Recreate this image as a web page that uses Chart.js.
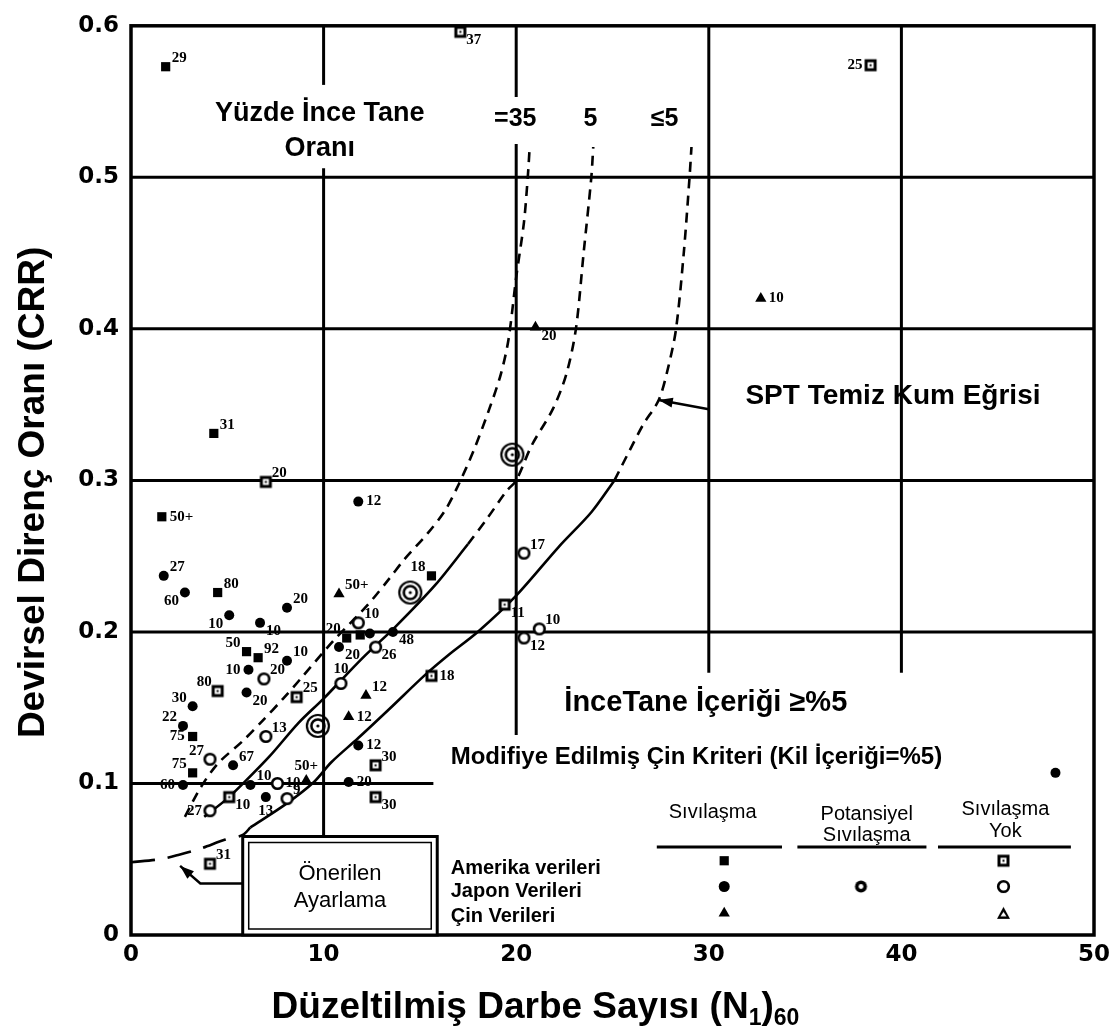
<!DOCTYPE html>
<html lang="tr">
<head>
<meta charset="UTF-8" />
<title>SPT Sıvılaşma Grafiği</title>
<script src="https://cdn.jsdelivr.net/npm/chart.js"></script>
<style>
  html, body { margin: 0; padding: 0; background: #fff; }
  #kutu { width: 1117px; height: 1033px; }
</style>
</head>
<body>
<div id="kutu"><canvas id="grafik" width="1117" height="1033"></canvas></div>
<script>
// ---- Veriler ----

// Amerika verileri - sıvılaşma (dolu kare)
var amerikaSivX = [1.8, 4.3, 1.6, 4.5, 6.0, 6.6, 3.2, 3.2, 15.6, 11.2, 11.9];
var amerikaSivY = [0.573, 0.331, 0.276, 0.226, 0.187, 0.183, 0.131, 0.107, 0.237, 0.196, 0.198];
var amerikaSivEtiket = ["29", "31", "50+", "80", "50", "92", "75", "75", "18", "20", ""];
var amerikaSivYer = ["ne", "ne", "e", "ne", "nw", "ne", "w", "nw", "nw", "nw", ""];

// Amerika verileri - sıvılaşma yok (açık kare)
var amerikaYokX = [17.1, 38.4, 7.0, 4.5, 8.6, 15.6, 19.4, 12.7, 12.7, 4.1, 5.1];
var amerikaYokY = [0.596, 0.574, 0.299, 0.161, 0.157, 0.171, 0.218, 0.112, 0.091, 0.047, 0.091];
var amerikaYokEtiket = ["37", "25", "20", "80", "25", "18", "11", "30", "30", "31", "10"];
var amerikaYokYer = ["se", "w", "ne", "nw", "ne", "e", "se", "ne", "se", "ne", "se"];

// Japon verileri - sıvılaşma (dolu daire)
var japonSivX = [11.8, 1.7, 2.8, 5.1, 6.7, 8.1, 8.1, 6.1, 6.0, 3.2, 2.7, 2.7, 6.2, 7.0, 11.8, 11.3, 10.8, 12.4, 13.6, 5.3, 48.0];
var japonSivY = [0.286, 0.237, 0.226, 0.211, 0.206, 0.216, 0.181, 0.175, 0.160, 0.151, 0.138, 0.099, 0.099, 0.091, 0.125, 0.101, 0.190, 0.199, 0.200, 0.112, 0.107];
var japonSivEtiket = ["12", "27", "60", "10", "10", "20", "10", "10", "20", "30", "22", "60", "10", "13", "12", "20", "20", "", "48", "67", ""];
var japonSivYer = ["e", "ne", "sw", "sw", "se", "ne", "ne", "w", "se", "nw", "nw", "w", "ne", "s", "e", "e", "se", "", "se", "ne", ""];

// Japon verileri - sıvılaşma yok (açık daire)
var japonYokX = [20.4, 21.2, 20.4, 6.9, 4.1, 7.0, 11.8, 10.9, 12.7, 7.6, 8.1, 4.1];
var japonYokY = [0.252, 0.202, 0.196, 0.169, 0.116, 0.131, 0.206, 0.166, 0.190, 0.100, 0.090, 0.082];
var japonYokEtiket = ["17", "10", "12", "20", "27", "13", "10", "10", "26", "10", "9", "27"];
var japonYokYer = ["ne", "ne", "se", "ne", "nw", "ne", "ne", "n", "se", "e", "ne", "w"];

// Japon verileri - potansiyel sıvılaşma (çift daire)
var japonPotX = [19.8, 14.5, 9.7];
var japonPotY = [0.317, 0.226, 0.138];

// Çin verileri - sıvılaşma (üçgen)
var cinSivX = [10.8, 12.2, 11.3, 9.1, 32.7, 21.0];
var cinSivY = [0.225, 0.158, 0.144, 0.102, 0.420, 0.401];
var cinSivEtiket = ["50+", "12", "12", "50+", "10", "20"];
var cinSivYer = ["ne", "ne", "e", "n", "e", "se"];

// Eğriler: ince tane oranı 35 (kesikli)
var egri35X = [2.8, 3.6, 4.5, 5.8, 6.8, 7.9, 8.8, 10.5, 12.3, 13.4, 14.2, 15.4, 16.3, 17.0, 17.8, 18.6, 19.2, 19.6, 20.0, 20.4, 20.6, 20.7];
var egri35Y = [0.078, 0.097, 0.113, 0.128, 0.141, 0.156, 0.169, 0.194, 0.218, 0.235, 0.248, 0.265, 0.280, 0.297, 0.320, 0.347, 0.370, 0.393, 0.434, 0.470, 0.500, 0.520];

// ince tane oranı 5 (düz + kesikli uzantı)
var egri5DuzX = [3.8, 5.0, 5.9, 7.2, 8.7, 10.0, 11.2, 12.2, 13.7, 15.8, 17.5];
var egri5DuzY = [0.078, 0.090, 0.101, 0.118, 0.140, 0.156, 0.172, 0.185, 0.203, 0.231, 0.258];
var egri5KesX = [17.5, 18.5, 19.5, 20.0, 20.8, 21.9, 22.6, 23.1, 23.5, 23.9, 24.0];
var egri5KesY = [0.258, 0.275, 0.293, 0.300, 0.323, 0.347, 0.370, 0.400, 0.450, 0.500, 0.520];

// ≤5 - SPT temiz kum eğrisi
var temizDuzX = [6.2, 8.0, 9.5, 10.4, 11.8, 13.4, 15.3, 16.5, 18.0, 20.0, 22.2, 23.9, 25.1];
var temizDuzY = [0.071, 0.086, 0.101, 0.114, 0.130, 0.149, 0.172, 0.185, 0.200, 0.224, 0.256, 0.279, 0.300];
var temizKesX = [25.1, 25.9, 26.6, 27.4, 27.9, 28.3, 28.7, 29.0, 29.1];
var temizKesY = [0.300, 0.320, 0.337, 0.353, 0.375, 0.400, 0.450, 0.500, 0.520];

// Önerilen ayarlama (kesikli)
var ayarX = [0, 1.5, 2.5, 3.6, 4.9, 5.8, 6.2];
var ayarY = [0.048, 0.050, 0.053, 0.057, 0.063, 0.066, 0.071];

// Lejant işaretleri
var lejantSutunX = [30.8, 37.9, 45.3];
var lejantSatirY = [0.049, 0.032, 0.0143];

// Eksen tikleri
var xTikler = [0, 10, 20, 30, 40, 50];
var yTikler = [0, 0.1, 0.2, 0.3, 0.4, 0.5, 0.6];

// ---- Çizim yerleşimi (veri koordinatında) ----
var izgaraDikey = [[10, 0.065, 0.506], [10, 0.561, 0.6], [20, 0.132, 0.522], [20, 0.553, 0.6], [30, 0.173, 0.6], [40, 0.173, 0.6]];
var izgaraYatay = [[0.1, 0, 15.7], [0.2, 0, 50], [0.3, 0, 50], [0.4, 0, 50], [0.5, 0, 50]];

function noktalar(xs, ys) {
  var liste = [];
  for (var i = 0; i < xs.length; i++) {
    liste.push({ x: xs[i], y: ys[i] });
  }
  return liste;
}

// özel işaretler (küçük canvas)
function isaret(tur) {
  var c = document.createElement("canvas");
  var b = tur === "cift" ? 26 : 15;
  c.width = b;
  c.height = b;
  var g = c.getContext("2d");
  var m = b / 2;
  g.fillStyle = "#000";
  g.strokeStyle = "#000";
  if (tur === "acikKare") {
    g.fillRect(1.5, 1.5, 12, 12);
    g.fillStyle = "#fff";
    g.fillRect(4.5, 4.5, 6, 6);
    g.fillStyle = "#000";
    g.fillRect(6.5, 6.5, 2, 2);
  } else if (tur === "acikDaire") {
    g.lineWidth = 2.6;
    g.beginPath();
    g.arc(m, m, 5.3, 0, Math.PI * 2);
    g.fillStyle = "#fff";
    g.fill();
    g.stroke();
  } else if (tur === "cift") {
    g.lineWidth = 2.2;
    g.beginPath();
    g.arc(m, m, 11, 0, Math.PI * 2);
    g.stroke();
    g.lineWidth = 2.6;
    g.beginPath();
    g.arc(m, m, 6.5, 0, Math.PI * 2);
    g.stroke();
    g.beginPath();
    g.arc(m, m, 1.6, 0, Math.PI * 2);
    g.fill();
  } else if (tur === "potansiyel") {
    g.beginPath();
    g.arc(m, m, 6, 0, Math.PI * 2);
    g.fill();
    g.fillStyle = "#fff";
    g.beginPath();
    g.arc(m, m, 2.4, 0, Math.PI * 2);
    g.fill();
  } else if (tur === "acikUcgen") {
    g.beginPath();
    g.moveTo(m, 1);
    g.lineTo(b - 1, b - 2);
    g.lineTo(1, b - 2);
    g.closePath();
    g.fill();
    g.fillStyle = "#fff";
    g.beginPath();
    g.moveTo(m, 6);
    g.lineTo(m + 3, b - 4.5);
    g.lineTo(m - 3, b - 4.5);
    g.closePath();
    g.fill();
  }
  return c;
}

var acikKare = isaret("acikKare");
var acikDaire = isaret("acikDaire");
var ciftDaire = isaret("cift");
var potansiyel = isaret("potansiyel");
var acikUcgen = isaret("acikUcgen");

function nokta(ad, xs, ys, stil, r, etiket, yer) {
  return {
    label: ad,
    data: noktalar(xs, ys),
    pointStyle: stil,
    pointRadius: r,
    backgroundColor: "#000",
    borderColor: "#000",
    borderWidth: 0,
    showLine: false,
    clip: false,
    etiketler: etiket,
    yerler: yer,
  };
}

function egri(ad, xs, ys, kesik) {
  return {
    label: ad,
    data: noktalar(xs, ys),
    showLine: true,
    pointRadius: 0,
    borderColor: "#000",
    borderWidth: 2.6,
    borderDash: kesik,
    tension: 0.3,
    fill: false,
    clip: false,
  };
}

function px(chart, x, y) {
  return { x: chart.scales.x.getPixelForValue(x), y: chart.scales.y.getPixelForValue(y) };
}

// ızgara ve çerçeve
var izgaraEklentisi = {
  id: "izgara",
  beforeDatasetsDraw: function (chart) {
    var ctx = chart.ctx;
    var a = chart.chartArea;
    ctx.save();
    ctx.strokeStyle = "#000";
    ctx.lineWidth = 3;
    izgaraDikey.forEach(function (s) {
      var p1 = px(chart, s[0], s[1]);
      var p2 = px(chart, s[0], s[2]);
      ctx.beginPath();
      ctx.moveTo(p1.x, p1.y);
      ctx.lineTo(p2.x, p2.y);
      ctx.stroke();
    });
    izgaraYatay.forEach(function (s) {
      var p1 = px(chart, s[1], s[0]);
      var p2 = px(chart, s[2], s[0]);
      ctx.beginPath();
      ctx.moveTo(p1.x, p1.y);
      ctx.lineTo(p2.x, p2.y);
      ctx.stroke();
    });
    ctx.lineWidth = 3.5;
    ctx.strokeRect(a.left, a.top, a.right - a.left, a.bottom - a.top);
    ctx.restore();
  },
};

// nokta etiketleri
var etiketEklentisi = {
  id: "etiketler",
  afterDatasetsDraw: function (chart) {
    var ctx = chart.ctx;
    ctx.save();
    ctx.font = 'bold 15px "Liberation Serif"';
    ctx.fillStyle = "#000";
    chart.data.datasets.forEach(function (ds, di) {
      if (!ds.etiketler) return;
      var meta = chart.getDatasetMeta(di);
      meta.data.forEach(function (el, i) {
        var t = ds.etiketler[i];
        if (!t) return;
        var yer = ds.yerler[i];
        var x = el.x, y = el.y;
        if (yer === "ne") { ctx.textAlign = "left"; ctx.textBaseline = "bottom"; x += 6; y -= 1; }
        else if (yer === "e") { ctx.textAlign = "left"; ctx.textBaseline = "middle"; x += 8; }
        else if (yer === "se") { ctx.textAlign = "left"; ctx.textBaseline = "top"; x += 6; y += 1; }
        else if (yer === "w") { ctx.textAlign = "right"; ctx.textBaseline = "middle"; x -= 8; }
        else if (yer === "nw") { ctx.textAlign = "right"; ctx.textBaseline = "bottom"; x -= 6; y -= 1; }
        else if (yer === "sw") { ctx.textAlign = "right"; ctx.textBaseline = "top"; x -= 6; y += 1; }
        else if (yer === "n") { ctx.textAlign = "center"; ctx.textBaseline = "bottom"; y -= 7; }
        else { ctx.textAlign = "center"; ctx.textBaseline = "top"; y += 7; }
        ctx.fillText(t, x, y);
      });
    });
    ctx.restore();
  },
};

function ok(ctx, yol) {
  ctx.beginPath();
  ctx.moveTo(yol[0].x, yol[0].y);
  for (var i = 1; i < yol.length; i++) ctx.lineTo(yol[i].x, yol[i].y);
  ctx.stroke();
  var u = yol[yol.length - 1];
  var o = yol[yol.length - 2];
  var aci = Math.atan2(u.y - o.y, u.x - o.x);
  ctx.beginPath();
  ctx.moveTo(u.x, u.y);
  ctx.lineTo(u.x - 14 * Math.cos(aci) + 5 * Math.sin(aci), u.y - 14 * Math.sin(aci) - 5 * Math.cos(aci));
  ctx.lineTo(u.x - 14 * Math.cos(aci) - 5 * Math.sin(aci), u.y - 14 * Math.sin(aci) + 5 * Math.cos(aci));
  ctx.closePath();
  ctx.fill();
}

// yazılar, kutu, oklar, lejant, eksen başlıkları
var yaziEklentisi = {
  id: "yazilar",
  afterDraw: function (chart) {
    var ctx = chart.ctx;
    ctx.save();
    ctx.fillStyle = "#000";
    ctx.strokeStyle = "#000";

    function yaz(metin, x, y, font, hiza) {
      var p = px(chart, x, y);
      ctx.font = font;
      ctx.textAlign = hiza || "center";
      ctx.textBaseline = "alphabetic";
      ctx.fillText(metin, p.x, p.y);
    }

    var kalin27 = 'bold 27px "Liberation Sans"';
    yaz("Yüzde İnce Tane", 9.8, 0.537, kalin27);
    yaz("Oranı", 9.8, 0.514, kalin27);
    yaz("=35", 19.95, 0.534, 'bold 25px "Liberation Sans"');
    yaz("5", 23.85, 0.534, 'bold 25px "Liberation Sans"');
    yaz("≤5", 27.7, 0.534, 'bold 25px "Liberation Sans"');
    yaz("SPT Temiz Kum Eğrisi", 31.9, 0.3505, 'bold 28px "Liberation Sans"', "left");
    yaz("İnceTane İçeriği ≥%5", 22.5, 0.148, 'bold 29px "Liberation Sans"', "left");
    yaz("Modifiye Edilmiş Çin Kriteri (Kil İçeriği=%5)", 16.6, 0.1127, 'bold 24px "Liberation Sans"', "left");

    // lejant başlıkları
    var ince = '20px "Liberation Sans"';
    yaz("Sıvılaşma", 30.2, 0.0769, ince);
    yaz("Potansiyel", 38.2, 0.0762, ince);
    yaz("Sıvılaşma", 38.2, 0.0618, ince);
    yaz("Sıvılaşma", 45.4, 0.0795, ince);
    yaz("Yok", 45.4, 0.0645, ince);
    ctx.lineWidth = 3;
    [[27.3, 33.8], [34.6, 41.3], [41.9, 48.8]].forEach(function (s) {
      var p1 = px(chart, s[0], 0.058);
      var p2 = px(chart, s[1], 0.058);
      ctx.beginPath();
      ctx.moveTo(p1.x, p1.y);
      ctx.lineTo(p2.x, p2.y);
      ctx.stroke();
    });
    var satir = 'bold 20px "Liberation Sans"';
    yaz("Amerika verileri", 16.6, 0.0404, satir, "left");
    yaz("Japon Verileri", 16.6, 0.0248, satir, "left");
    yaz("Çin Verileri", 16.6, 0.0085, satir, "left");

    // önerilen ayarlama kutusu
    var k1 = px(chart, 5.8, 0.065);
    var k2 = px(chart, 15.9, 0);
    ctx.fillStyle = "#fff";
    ctx.fillRect(k1.x, k1.y, k2.x - k1.x, k2.y - k1.y);
    ctx.lineWidth = 3;
    ctx.strokeRect(k1.x, k1.y, k2.x - k1.x, k2.y - k1.y);
    ctx.lineWidth = 1.5;
    ctx.strokeRect(k1.x + 6, k1.y + 6, k2.x - k1.x - 12, k2.y - k1.y - 12);
    ctx.fillStyle = "#000";
    var orta = (k1.x + k2.x) / 2;
    ctx.font = '22px "Liberation Sans"';
    ctx.textAlign = "center";
    ctx.fillText("Önerilen", orta, k1.y + 43);
    ctx.fillText("Ayarlama", orta, k1.y + 70);

    // oklar
    ctx.lineWidth = 2.5;
    ok(ctx, [px(chart, 5.8, 0.034), px(chart, 3.6, 0.034), px(chart, 2.55, 0.0456)]);
    ok(ctx, [px(chart, 30.0, 0.347), px(chart, 27.4, 0.353)]);

    // eksen başlıkları
    ctx.font = 'bold 37px "Liberation Sans"';
    ctx.textAlign = "center";
    ctx.textBaseline = "middle";
    ctx.save();
    ctx.translate(34, (chart.chartArea.top + chart.chartArea.bottom) / 2 + 12);
    ctx.rotate(-Math.PI / 2);
    ctx.fillText("Devirsel Direnç Oranı (CRR)", 0, 0);
    ctx.restore();

    var parcalar = [
      ["Düzeltilmiş Darbe Sayısı (N", 37, 0],
      ["1", 23, 7],
      [")", 37, 0],
      ["60", 23, 7],
    ];
    var toplam = 0;
    parcalar.forEach(function (p) {
      ctx.font = "bold " + p[1] + 'px "Liberation Sans"';
      p.push(ctx.measureText(p[0]).width);
      toplam += p[3];
    });
    var xb = chart.scales.x.getPixelForValue(21.0) - toplam / 2;
    ctx.textAlign = "left";
    ctx.textBaseline = "alphabetic";
    parcalar.forEach(function (p) {
      ctx.font = "bold " + p[1] + 'px "Liberation Sans"';
      ctx.fillText(p[0], xb, 1018 + p[2]);
      xb += p[3];
    });
    ctx.restore();
  },
};

var veri = {
  datasets: [
    nokta("Japon - potansiyel", japonPotX, japonPotY, ciftDaire, 10, null, null),
    nokta("Amerika - sıvılaşma", amerikaSivX, amerikaSivY, "rect", 6.5, amerikaSivEtiket, amerikaSivYer),
    nokta("Amerika - sıvılaşma yok", amerikaYokX, amerikaYokY, acikKare, 7, amerikaYokEtiket, amerikaYokYer),
    nokta("Japon - sıvılaşma", japonSivX, japonSivY, "circle", 5, japonSivEtiket, japonSivYer),
    nokta("Japon - sıvılaşma yok", japonYokX, japonYokY, acikDaire, 7, japonYokEtiket, japonYokYer),
    nokta("Çin - sıvılaşma", cinSivX, cinSivY, "triangle", 6.5, cinSivEtiket, cinSivYer),
    {
      label: "Lejant sıvılaşma",
      data: noktalar([lejantSutunX[0], lejantSutunX[0], lejantSutunX[0]], lejantSatirY),
      pointStyle: ["rect", "circle", "triangle"],
      pointRadius: [6.5, 5.5, 6.5],
      backgroundColor: "#000",
      borderWidth: 0,
      showLine: false,
      clip: false,
    },
    {
      label: "Lejant potansiyel",
      data: noktalar([lejantSutunX[1]], [lejantSatirY[1]]),
      pointStyle: potansiyel,
      pointRadius: 7,
      showLine: false,
      clip: false,
    },
    {
      label: "Lejant sıvılaşma yok",
      data: noktalar([lejantSutunX[2], lejantSutunX[2], lejantSutunX[2]], lejantSatirY),
      pointStyle: [acikKare, acikDaire, acikUcgen],
      pointRadius: 7,
      showLine: false,
      clip: false,
    },
    egri("35", egri35X, egri35Y, [10, 7]),
    egri("5 düz", egri5DuzX, egri5DuzY, []),
    egri("5 kesikli", egri5KesX, egri5KesY, [10, 7]),
    egri("temiz kum", temizDuzX, temizDuzY, []),
    egri("temiz kum kesikli", temizKesX, temizKesY, [10, 7]),
    egri("ayarlama", ayarX, ayarY, [24, 13]),
  ],
};

var ayarlar = {
  type: "scatter",
  data: veri,
  options: {
    responsive: false,
    animation: false,
    layout: { padding: { top: 14, right: 23, left: 0, bottom: 0 } },
    plugins: { legend: { display: false }, tooltip: { enabled: false } },
    scales: {
      x: {
        type: "linear",
        min: xTikler[0],
        max: xTikler[xTikler.length - 1],
        afterBuildTicks: function (s) { s.ticks = xTikler.map(function (v) { return { value: v }; }); },
        grid: { display: false, drawTicks: false },
        border: { display: false },
        ticks: { color: "#000", font: { family: "DejaVu Sans", size: 23, weight: "bold" }, padding: 6, maxRotation: 0 },
        afterFit: function (s) { s.height = 98; },
      },
      y: {
        type: "linear",
        min: yTikler[0],
        max: yTikler[yTikler.length - 1],
        afterBuildTicks: function (s) { s.ticks = yTikler.map(function (v) { return { value: v }; }); },
        grid: { display: false, drawTicks: false },
        border: { display: false },
        ticks: {
          color: "#000",
          font: { family: "DejaVu Sans", size: 23, weight: "bold" },
          padding: 12,
          callback: function (v) { return v === 0 ? "0" : v.toFixed(1); },
        },
        afterFit: function (s) { s.width = 131; },
      },
    },
  },
  plugins: [izgaraEklentisi, etiketEklentisi, yaziEklentisi],
};

var grafik = new Chart(document.getElementById("grafik"), ayarlar);
</script>
</body>
</html>
